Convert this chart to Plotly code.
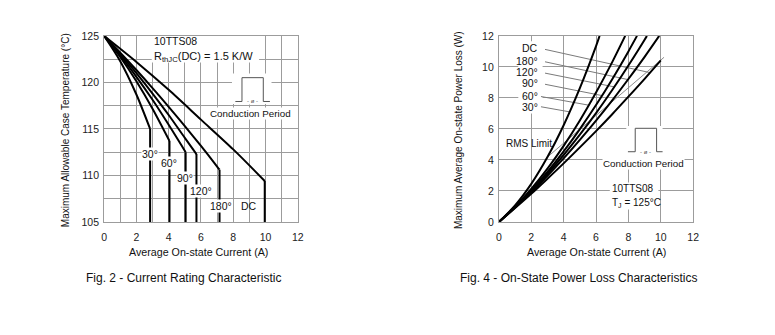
import plotly.graph_objects as go

W, H = 775, 335

# ---------------- Fig. 2 data (Current Rating Characteristic) ----------------
f2_labels = ["30°", "60°", "90°", "120°", "180°", "DC"]
f2_i_30 = [0, 1, 2, 2.85]
f2_t_30 = [125, 122.28, 118.7, 115.0]
f2_i_60 = [0, 1, 2, 3, 4.05]
f2_t_60 = [125, 122.73, 120.12, 117.17, 113.7]
f2_i_90 = [0, 1, 2, 3, 4, 5.05]
f2_t_90 = [125, 122.9, 120.6, 118.13, 115.44, 112.5]
f2_i_120 = [0, 1, 2, 3, 4, 5, 5.72]
f2_t_120 = [125, 123.06, 121.0, 118.8, 116.5, 114.04, 112.3]
f2_i_180 = [0, 1, 2, 3, 4, 5, 6, 7, 7.15]
f2_t_180 = [125, 123.2, 121.33, 119.39, 117.38, 115.31, 113.17, 110.96, 110.62]
f2_i_dc = [0, 2, 4, 6, 8, 9.95]
f2_t_dc = [125, 122.2, 119.2, 116.0, 112.8, 109.4]
f2_label_i = [2.82, 3.99, 5.01, 5.98, 7.26, 8.99]
f2_label_t = [112.33, 111.3, 109.74, 108.35, 106.7, 106.7]
f2_xticks = [0, 2, 4, 6, 8, 10, 12]
f2_yticks = [105, 110, 115, 120, 125]

# ---------------- Fig. 4 data (On-State Power Loss) ----------------
f4_labels = ["DC", "180°", "120°", "90°", "60°", "30°"]
f4_i_30 = [0, 1, 2, 3, 4, 5, 6, 6.22]
f4_p_30 = [0, 1.07, 2.46, 4.19, 6.24, 8.63, 11.34, 12.0]
f4_i_60 = [0, 1, 2, 3, 4, 5, 6, 7, 7.8]
f4_p_60 = [0, 0.98, 2.13, 3.44, 4.91, 6.55, 8.35, 10.31, 12.0]
f4_i_90 = [0, 1, 2, 3, 4, 5, 6, 7, 8, 8.53]
f4_p_90 = [0, 0.96, 2.04, 3.23, 4.55, 5.99, 7.54, 9.21, 11.0, 12.0]
f4_i_120 = [0, 1, 2, 3, 4, 5, 6, 7, 8, 9, 9.14]
f4_p_120 = [0, 0.95, 1.98, 3.11, 4.32, 5.63, 7.02, 8.51, 10.09, 11.75, 12.0]
f4_i_180 = [0, 1, 2, 3, 4, 5, 6, 7, 8, 9, 9.9]
f4_p_180 = [0, 0.93, 1.93, 2.98, 4.1, 5.29, 6.53, 7.84, 9.22, 10.65, 12.0]
f4_i_dc = [0, 1, 2, 3, 4, 5, 6, 7, 8, 9, 10]
f4_p_dc = [0, 0.9, 1.82, 2.79, 3.78, 4.81, 5.86, 6.95, 8.08, 9.23, 10.42]
f4_rms_i = [2.9, 10.2]
f4_rms_p = [4.1, 10.62]
# label text anchor (right edge) and leader line start/end, ordered as f4_labels
f4_label_i = [2.5, 2.5, 2.5, 2.5, 2.5, 2.5]
f4_label_p = [11.2, 10.38, 9.66, 8.93, 8.14, 7.4]
f4_lead_i0 = [2.85, 2.85, 2.85, 2.85, 2.6, 2.6]
f4_lead_p0 = [11.13, 10.33, 9.6, 8.88, 8.09, 7.43]
f4_lead_i1 = [9.33, 7.98, 7.13, 6.37, 5.56, 4.38]
f4_lead_p1 = [9.63, 9.18, 8.71, 8.15, 7.53, 7.1]
f4_xticks = [0, 2, 4, 6, 8, 10, 12]
f4_yticks = [0, 2, 4, 6, 8, 10, 12]

FONT = "Liberation Sans, Arial, Helvetica, sans-serif"
GRID = "#9c9c9c"


def px(x):
    return x / W


def py(y):
    return 1 - y / H


fig = go.Figure()

# ---- left chart curves
left_sets = [(f2_i_30, f2_t_30), (f2_i_60, f2_t_60), (f2_i_90, f2_t_90),
             (f2_i_120, f2_t_120), (f2_i_180, f2_t_180), (f2_i_dc, f2_t_dc)]
for xs, ys in left_sets:
    fig.add_trace(go.Scatter(x=xs, y=ys, mode="lines", xaxis="x", yaxis="y",
                             line=dict(color="black", width=2, shape="spline", smoothing=0.8),
                             hoverinfo="skip", showlegend=False))
    fig.add_trace(go.Scatter(x=[xs[-1], xs[-1]], y=[ys[-1], f2_yticks[0]], mode="lines",
                             xaxis="x", yaxis="y", line=dict(color="black", width=2),
                             hoverinfo="skip", showlegend=False))

# ---- right chart
fig.add_trace(go.Scatter(x=f4_rms_i, y=f4_rms_p, mode="lines", xaxis="x2", yaxis="y2",
                         line=dict(color="#8c8c8c", width=1), hoverinfo="skip", showlegend=False))
for k in range(len(f4_labels)):
    fig.add_trace(go.Scatter(x=[f4_lead_i0[k], f4_lead_i1[k]], y=[f4_lead_p0[k], f4_lead_p1[k]],
                             mode="lines", xaxis="x2", yaxis="y2",
                             line=dict(color="#7a7a7a", width=1), hoverinfo="skip", showlegend=False))
right_sets = [(f4_i_30, f4_p_30), (f4_i_60, f4_p_60), (f4_i_90, f4_p_90),
              (f4_i_120, f4_p_120), (f4_i_180, f4_p_180), (f4_i_dc, f4_p_dc)]
for xs, ys in right_sets:
    fig.add_trace(go.Scatter(x=xs, y=ys, mode="lines", xaxis="x2", yaxis="y2",
                             line=dict(color="black", width=2, shape="spline", smoothing=0.8),
                             hoverinfo="skip", showlegend=False))

axis_common = dict(showline=True, mirror=True, linecolor=GRID, linewidth=1,
                   showgrid=True, gridcolor=GRID, gridwidth=1, zeroline=False,
                   ticks="", tickfont=dict(family=FONT, size=10.5, color="#222"),
                   fixedrange=True)

fig.update_layout(
    width=W, height=H, margin=dict(l=0, r=0, t=0, b=0),
    paper_bgcolor="white", plot_bgcolor="white",
    font=dict(family=FONT, color="#222"),
    xaxis=dict(domain=[px(102.3), px(298.3)], range=[0, 12], anchor="y",
               tickvals=f2_xticks, ticktext=[str(v) for v in f2_xticks], ticklabelstandoff=5,
               minor=dict(dtick=1, showgrid=True, gridcolor=GRID, gridwidth=1), **axis_common),
    yaxis=dict(domain=[py(224), py(31)], range=[105, 125], anchor="x",
               tickvals=f2_yticks, ticktext=[str(v) for v in f2_yticks], ticklabelstandoff=2,
               minor=dict(dtick=2.5, showgrid=True, gridcolor=GRID, gridwidth=1), **axis_common),
    xaxis2=dict(domain=[px(501.7), px(698.3)], range=[0, 12], anchor="y2",
                tickvals=f4_xticks, ticktext=[str(v) for v in f4_xticks], ticklabelstandoff=5,
                **axis_common),
    yaxis2=dict(domain=[py(224), py(31)], range=[0, 12], anchor="x2",
                tickvals=f4_yticks, ticktext=[str(v) for v in f4_yticks], ticklabelstandoff=2,
                **axis_common),
)

shapes = []
# white boxes hiding grid
shapes.append(dict(type="rect", xref="x", yref="y", x0=2.95, x1=9.6, y0=122.15, y1=125,
                   fillcolor="white", line=dict(width=0), layer="between"))
shapes.append(dict(type="rect", xref="x", yref="y", x0=7.92, x1=10.37, y0=117.67, y1=120.96,
                   fillcolor="white", line=dict(width=0), layer="between"))
shapes.append(dict(type="rect", xref="x2", yref="y2", x0=7.87, x1=10.11, y0=4.11, y1=6.19,
                   fillcolor="white", line=dict(width=0), layer="between"))
shapes.append(dict(type="rect", xref="x2", yref="y2", x0=1.2, x1=2.7, y0=7.0, y1=11.65,
                   fillcolor="white", line=dict(width=0), layer="between"))
shapes.append(dict(type="rect", xref="x2", yref="y2", x0=6.85, x1=9.85, y0=0.8, y1=2.55,
                   fillcolor="white", line=dict(width=0), layer="between"))
# conduction period pulse icons
shapes.append(dict(type="path", xref="x", yref="y",
                   path="M 8.13 117.95 L 8.54 117.95 L 8.54 120.51 L 9.86 120.51 L 9.86 117.95 L 10.27 117.95",
                   line=dict(color="#555", width=1), layer="above"))
shapes.append(dict(type="path", xref="x2", yref="y2",
                   path="M 7.97 4.53 L 8.42 4.53 L 8.42 6.04 L 9.74 6.04 L 9.74 4.53 L 10.11 4.53",
                   line=dict(color="#555", width=1), layer="above"))
fig.update_layout(shapes=shapes)

ann = []
txt = dict(family=FONT, size=10.5, color="#111")
for k, lab in enumerate(f2_labels):
    ann.append(dict(x=f2_label_i[k], y=f2_label_t[k], xref="x", yref="y", text=lab,
                    showarrow=False, font=txt, bgcolor="white" if lab != "DC" else None,
                    borderpad=0, xanchor="center", yanchor="middle"))
for k, lab in enumerate(f4_labels):
    ann.append(dict(x=f4_label_i[k], y=f4_label_p[k], xref="x2", yref="y2", text=lab,
                    showarrow=False, font=txt, xanchor="right", yanchor="middle", borderpad=0))
C = dict(xanchor="center", yanchor="middle", showarrow=False)
L = dict(xanchor="left", yanchor="middle", showarrow=False)
ann += [
    dict(x=2.95, y=124.5, xref="x", yref="y", text="10TTS08",
         font=dict(family=FONT, size=10.5, color="#111"), **L),
    dict(x=2.95, y=122.75, xref="x", yref="y", text="R<sub>thJC</sub>(DC) = 1.5 K/W",
         font=dict(family=FONT, size=11, color="#111"), **L),
    dict(x=9.05, y=116.64, xref="x", yref="y", text="Conduction Period",
         font=dict(family=FONT, size=9.8, color="#111"), bgcolor="white", borderpad=0, **C),
    dict(x=9.2, y=117.95, xref="x", yref="y", text="- ø -",
         font=dict(family=FONT, size=6, color="#555"), bgcolor="white", borderpad=0, **C),
    dict(x=8.93, y=3.74, xref="x2", yref="y2", text="Conduction Period",
         font=dict(family=FONT, size=9.8, color="#111"), bgcolor="white", borderpad=0, **C),
    dict(x=9.08, y=4.53, xref="x2", yref="y2", text="- ø -",
         font=dict(family=FONT, size=6, color="#555"), bgcolor="white", borderpad=0, **C),
    dict(x=0.3, y=5.05, xref="x2", yref="y2", text="RMS Limit",
         font=dict(family=FONT, size=10, color="#111"), **L),
    dict(x=6.9, y=2.13, xref="x2", yref="y2", text="10TTS08",
         font=dict(family=FONT, size=10, color="#111"), borderpad=0, **L),
    dict(x=6.9, y=1.3, xref="x2", yref="y2", text="T<sub>J</sub> = 125°C",
         font=dict(family=FONT, size=10, color="#111"), borderpad=0, yshift=-1, **L),
    # axis titles
    dict(x=px(198), y=py(255), xref="paper", yref="paper", text="Average On-state Current (A)",
         font=dict(family=FONT, size=10.7, color="#111"), **C),
    dict(x=px(600), y=py(255), xref="paper", yref="paper", text="Average On-state Current (A)",
         font=dict(family=FONT, size=10.7, color="#111"), **C),
    dict(x=px(64), y=py(128.5), xref="paper", yref="paper",
         text="Maximum Allowable Case Temperature (°C)", textangle=-90,
         font=dict(family=FONT, size=10, color="#111"), **C),
    dict(x=px(461), y=py(129), xref="paper", yref="paper",
         text="Maximum Average On-state Power Loss (W)", textangle=-90,
         font=dict(family=FONT, size=10, color="#111"), **C),
    # captions
    dict(x=px(183), y=py(282), xref="paper", yref="paper",
         text="Fig. 2 - Current Rating Characteristic",
         font=dict(family=FONT, size=12, color="#111"), **C),
    dict(x=px(582), y=py(282), xref="paper", yref="paper",
         text="Fig. 4 - On-State Power Loss Characteristics",
         font=dict(family=FONT, size=12, color="#111"), **C),
]
fig.update_layout(annotations=ann)

fig.write_html("out.html")
